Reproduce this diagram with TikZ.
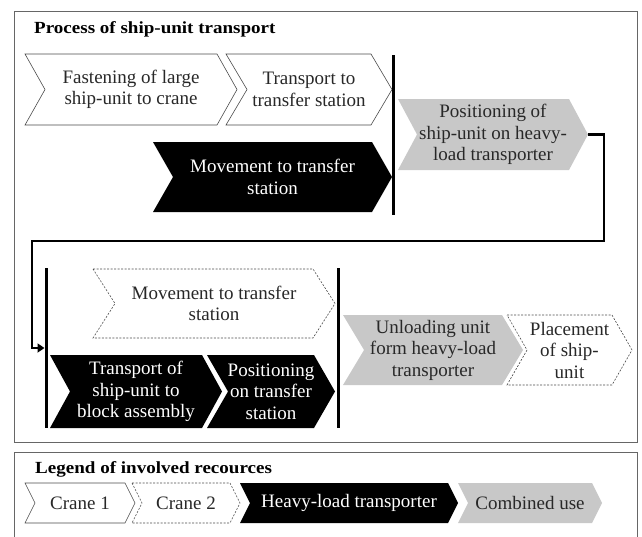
\documentclass[tikz,border=0pt]{standalone}
\usepackage{graphicx}
\usepackage{fontspec}
\setmainfont{Liberation Serif}
\usetikzlibrary{arrows.meta}
\definecolor{lgrey}{RGB}{200,200,200}
\definecolor{ink}{RGB}{40,40,40}
\tikzset{
  frame/.style={draw=black!60, line width=0.9pt},
  craneone/.style={draw=black!70, line width=0.6pt, fill=white},
  cranetwo/.style={draw=black!70, line width=0.6pt, fill=white, dash pattern=on 2pt off 1.5pt},
  heavy/.style={fill=black},
  combined/.style={fill=lgrey},
  darktxt/.style={text=ink, align=center, font=\fontsize{19}{21.5}\selectfont, inner sep=0pt},
  lighttxt/.style={text=white, align=center, font=\fontsize{19}{21.5}\selectfont, inner sep=0pt},
  bar/.style={line width=3pt},
  conn/.style={line width=2.5pt, -{Triangle[length=7pt,width=9pt]}},
  heading/.style={anchor=base west, inner sep=0pt, text=black}
}
\newcommand\chev[9]{%
  \path[#2] (#4,#7) -- (#5,#7) -- (#6,{(#7+#8)/2}) -- (#5,#8) -- (#4,#8) -- ({#4+#6-#5},{(#7+#8)/2}) -- cycle;
  \node[#3] (#1) at ({(#4+#6)/2},{(#7+#8)/2}) {#9};
  \coordinate (#1-tip) at (#6,{(#7+#8)/2});
}
\begin{document}
\begin{tikzpicture}[x=1pt,y=-1pt]
\useasboundingbox (0,0) rectangle (642,536);
% frames
\draw[frame] (14,11) rectangle (637,442);
\draw[frame] (14,452) rectangle (637,545);
\node[heading] (title) at (34,33) {\scalebox{1.12}[1]{\fontsize{17}{20}\selectfont\bfseries Process of ship-unit transport}};
\node[heading] (legtitle) at (35,473) {\scalebox{1.12}[1]{\fontsize{17}{20}\selectfont\bfseries Legend of involved recources}};
% row 1
\chev{fasten}{craneone}{darktxt}{25}{217}{237}{54}{125}{Fastening of large\\ship-unit to crane}
\chev{transp}{craneone}{darktxt}{226}{371}{392}{54}{125}{Transport to\\transfer station}
\chev{move}{heavy}{lighttxt}{153}{372}{392}{142}{212}{Movement to transfer\\station}
\draw[bar] (393,55) coordinate (barA-top) -- (393,215) coordinate (barA-bot);
\chev{posit}{combined}{darktxt}{398}{569}{588}{99}{170}{Positioning of\\ship-unit on heavy-\\load transporter}
% row 2
\draw[bar] (46,268) coordinate (barL-top) -- (46,428) coordinate (barL-bot);
\coordinate (barL-in) at (44.5,348);
\chev{movetwo}{cranetwo}{darktxt}{93}{313}{335}{269}{338}{Movement to transfer\\station}
\chev{block}{heavy}{lighttxt}{50}{202}{222}{355}{428}{Transport of\\ship-unit to\\block assembly}
\chev{postrans}{heavy}{lighttxt}{207}{314}{335}{355}{428}{Positioning\\on transfer\\station}
\draw[bar] (338,268) coordinate (barB-top) -- (338,428) coordinate (barB-bot);
\chev{unload}{combined}{darktxt}{343}{502}{523}{315}{385}{Unloading unit\\form heavy-load\\transporter}
\chev{place}{cranetwo}{darktxt}{507}{612}{632}{315}{385}{Placement\\of ship-\\unit}
% connector
\draw[conn] (posit-tip) -- ++(16,0) |- (32,241) |- (barL-in);
% legend
\chev{lgone}{craneone}{darktxt}{25}{125}{135}{483}{523}{Crane 1}
\chev{lgtwo}{cranetwo}{darktxt}{132}{230}{240}{483}{523}{Crane 2}
\chev{lgheavy}{heavy}{lighttxt}{240}{448}{458}{483}{523}{Heavy-load transporter}
\chev{lgcomb}{combined}{darktxt}{458}{592}{602}{483}{523}{Combined use}
\end{tikzpicture}
\end{document}
